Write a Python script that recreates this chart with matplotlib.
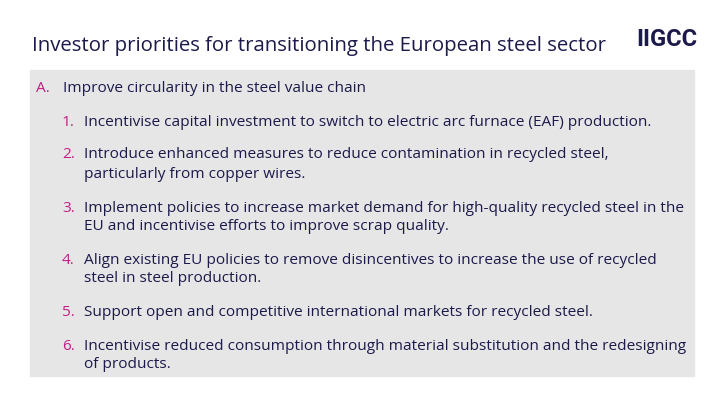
import matplotlib
matplotlib.use("Agg")
import matplotlib.pyplot as plt
from matplotlib.patches import Rectangle

title = "Investor priorities for transitioning the European steel sector"
logo = "IIGCC"
section_label = "A."
section_text = "Improve circularity in the steel value chain"
item_numbers = ["1.", "2.", "3.", "4.", "5.", "6."]
item_lines = [
    ["Incentivise capital investment to switch to electric arc furnace (EAF) production."],
    ["Introduce enhanced measures to reduce contamination in recycled steel,",
     "particularly from copper wires."],
    ["Implement policies to increase market demand for high-quality recycled steel in the",
     "EU and incentivise efforts to improve scrap quality."],
    ["Align existing EU policies to remove disincentives to increase the use of recycled",
     "steel in steel production."],
    ["Support open and competitive international markets for recycled steel."],
    ["Incentivise reduced consumption through material substitution and the redesigning",
     "of products."],
]
item_y = [122, 155, 208, 260, 312, 346]

W, H = 724, 407
navy = "#1b1a4b"
magenta = "#c21f86"
fig = plt.figure(figsize=(W/100, H/100), dpi=100)
ax = fig.add_axes([0, 0, 1, 1])
ax.set_xlim(0, W); ax.set_ylim(H, 0); ax.axis("off")

font = "Open Sans"
fs = 11.1
ax.text(32, 46, title, fontsize=14.7, color=navy, va="center", ha="left", family=font)
ax.text(697, 39, logo, fontsize=17, color=navy, va="center", ha="right",
        family="Roboto", weight="bold")
ax.add_patch(Rectangle((30, 70), 664, 306, color="#e6e6e6", zorder=0))
ax.text(36, 88, section_label, fontsize=fs, color=magenta, va="center", family=font)
ax.text(63, 88, section_text, fontsize=fs, color=navy, va="center", family=font)
for num, lines, y in zip(item_numbers, item_lines, item_y):
    ax.text(62, y, num, fontsize=fs, color=magenta, va="center", family=font)
    for k, line in enumerate(lines):
        ax.text(84, y + 19*k, line, fontsize=fs, color=navy, va="center", family=font)

fig.savefig("out.png", dpi=100)
